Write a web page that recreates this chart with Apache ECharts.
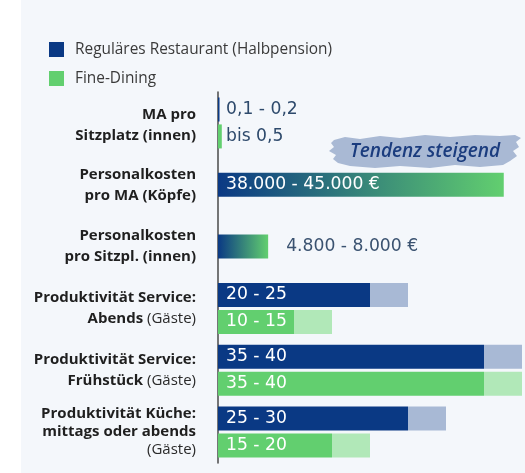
<!DOCTYPE html>
<html>
<head>
<meta charset="utf-8">
<script src="https://cdn.jsdelivr.net/npm/echarts@6/dist/echarts.min.js"></script>
<style>
html,body{margin:0;padding:0;background:#ffffff;}
#chart{width:525px;height:473px;}
</style>
</head>
<body>
<div id="chart"></div>
<script>
// ---- data ----
const categories = [
  'MA pro Sitzplatz (innen)',
  'Personalkosten pro MA (Köpfe)',
  'Personalkosten pro Sitzpl. (innen)',
  'Produktivität Service: Abends (Gäste)',
  'Produktivität Service: Frühstück (Gäste)',
  'Produktivität Küche: mittags oder abends (Gäste)'
];
// label lines: [text, bold?]
const categoryLines = [
  [[['MA pro', 1]], [['Sitzplatz (innen)', 1]]],
  [[['Personalkosten', 1]], [['pro MA (Köpfe)', 1]]],
  [[['Personalkosten', 1]], [['pro Sitzpl. (innen)', 1]]],
  [[['Produktivität Service:', 1]], [['Abends', 1], [' (Gäste)', 0]]],
  [[['Produktivität Service:', 1]], [['Frühstück', 1], [' (Gäste)', 0]]],
  [[['Produktivität Küche:', 1]], [['mittags oder abends', 1]], [['(Gäste)', 0]]]
];
const seriesNames = ['Reguläres Restaurant (Halbpension)', 'Fine-Dining'];
const regularLow  = [0.2, null, null, 20, 35, 25];
const regularHigh = [0.2, null, null, 25, 40, 30];
const regularText = ['0,1 - 0,2', '', '', '20 - 25', '35 - 40', '25 - 30'];
const fineLow  = [0.5, null, null, 10, 35, 15];
const fineHigh = [0.5, null, null, 15, 40, 20];
const fineText = ['bis 0,5', '', '', '10 - 15', '35 - 40', '15 - 20'];
const costBar  = [null, 37.6, 6.6, null, null, null];
const costText = ['', '38.000 - 45.000 €', '4.800 - 8.000 €', '', '', ''];
const costLabelOutside = [false, false, true, false, false, false];
const noteText = 'Tendenz steigend';

// ---- style ----
const C = {
  navy: '#0a3984', navyLight: '#a8b9d5',
  green: '#62cf6f', greenLight: '#b1e8b8',
  panel: '#f4f7fb', outText: '#2e4a6c'
};
const FONT = '"Open Sans"';
const VFONT = '"DejaVu Sans"';

function catFormatter(value, idx) {
  const lines = categoryLines[idx];
  const tag = idx === 5 ? 'k' : (idx === 0 ? 'm' : '');
  return lines.map(l => l.map(p => '{' + (p[1] ? 'b' : 'n') + tag + '|' + p[0] + '}').join('')).join('\n');
}

function labelData(low) {
  return low.map(v => {
    if (v === null) return null;
    return {value: v, label: {color: v < 1 ? C.outText : '#ffffff'}};
  });
}

const chart = echarts.init(document.getElementById('chart'), null, {renderer: 'canvas'});

const yCommon = {
  type: 'category', data: categories, inverse: true,
  axisTick: {show: false}
};

const bold = {fontFamily: FONT, fontWeight: 'bold', fontSize: 15, color: '#1f1f1f'};
const norm = {fontFamily: FONT, fontSize: 15, color: '#2a2a2a'};

const option = {
  backgroundColor: '#ffffff',
  animation: false,
  textStyle: {fontFamily: FONT},
  legend: {
    data: seriesNames,
    orient: 'vertical', left: 49, top: 42, padding: 0,
    itemWidth: 15, itemHeight: 15, itemGap: 14,
    icon: 'rect',
    textStyle: {fontFamily: FONT, fontSize: 15.4, color: '#3a3a3a', padding: [0, 0, 0, 6]}
  },
  grid: {left: 218, right: 3, top: 92, bottom: 10, containLabel: false},
  xAxis: {type: 'value', min: 0, max: 40, show: false},
  yAxis: [
    Object.assign({}, yCommon, {
      axisLine: {show: true, lineStyle: {color: '#4a4a4a', width: 1.5}},
      axisLabel: {
        margin: 22, formatter: catFormatter,
        rich: {
          b: Object.assign({lineHeight: 21}, bold),
          n: Object.assign({lineHeight: 21}, norm),
          bm: Object.assign({lineHeight: 21, padding: [5, 0, 0, 0]}, bold),
          bk: Object.assign({lineHeight: 18}, bold),
          nk: Object.assign({lineHeight: 18}, norm)
        }
      }
    }),
    Object.assign({}, yCommon, {show: false})
  ],
  series: [
    {
      name: seriesNames[0], type: 'bar', stack: 'reg', yAxisIndex: 0,
      barWidth: 24, barGap: '12.5%',
      itemStyle: {color: C.navy},
      data: labelData(regularLow),
      label: {
        show: true, position: 'insideLeft', distance: 8,
        fontFamily: VFONT, fontSize: 17.2,
        formatter: p => regularText[p.dataIndex]
      }
    },
    {
      name: 'reg-range', type: 'bar', stack: 'reg', yAxisIndex: 0,
      barWidth: 24, barGap: '12.5%',
      itemStyle: {color: C.navyLight},
      data: regularHigh.map((h, i) => h === null ? null : h - regularLow[i])
    },
    {
      name: seriesNames[1], type: 'bar', stack: 'fine', yAxisIndex: 0,
      barWidth: 24, barGap: '12.5%',
      itemStyle: {color: C.green},
      data: labelData(fineLow),
      label: {
        show: true, position: 'insideLeft', distance: 8,
        fontFamily: VFONT, fontSize: 17.2,
        formatter: p => fineText[p.dataIndex]
      }
    },
    {
      name: 'fine-range', type: 'bar', stack: 'fine', yAxisIndex: 0,
      barWidth: 24, barGap: '12.5%',
      itemStyle: {color: C.greenLight},
      data: fineHigh.map((h, i) => h === null ? null : h - fineLow[i])
    },
    {
      name: 'cost', type: 'bar', yAxisIndex: 1, barWidth: 24,
      itemStyle: {
        color: new echarts.graphic.LinearGradient(0, 0, 1, 0, [
          {offset: 0, color: C.navy}, {offset: 1, color: C.green}
        ])
      },
      data: costBar.map((v, i) => v === null ? null : {
        value: v,
        label: costLabelOutside[i]
          ? {position: 'right', distance: 18, color: '#3a5270'}
          : {position: 'insideLeft', distance: 8, color: '#ffffff'}
      }),
      label: {
        show: true, fontFamily: VFONT, fontSize: 17.2,
        formatter: p => costText[p.dataIndex]
      }
    }
  ],
  graphic: [
    {type: 'rect', z: -10, silent: true, shape: {x: 21, y: 0, width: 504, height: 473}, style: {fill: C.panel}},
    {
      type: 'polygon', z: 5, silent: true,
      shape: {points: [
        [334,140],[345,137],[360,139],[380,136],[400,138],[425,135],[450,137],[475,135],[500,136],[515,135],[521,138],
        [516,142],[519,147],[513,151],[517,156],[510,161],[503,165],[480,167],[455,165],[430,168],[400,166],[375,168],[350,166],[338,163],
        [333,159],[336,155],[329,151],[334,147],[331,143]
      ]},
      style: {fill: '#a9b9d4'}
    },
    {
      type: 'text', z: 6, silent: true, x: 425, y: 152,
      style: {text: noteText, fontFamily: FONT, fontStyle: 'italic', fontWeight: 600, fontSize: 19, fill: '#1b3c7e', align: 'center', verticalAlign: 'middle'}
    }
  ]
};
chart.setOption(option);
</script>
</body>
</html>
